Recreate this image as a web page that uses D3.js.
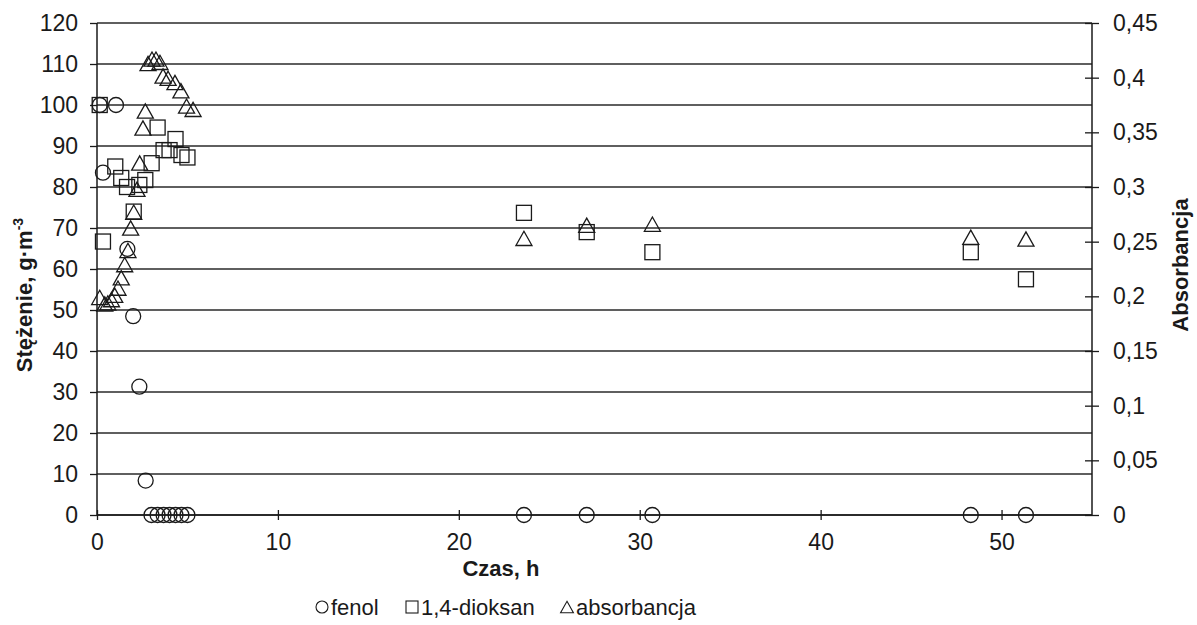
<!DOCTYPE html>
<html>
<head>
<meta charset="utf-8">
<script src="https://cdn.jsdelivr.net/npm/d3@7"></script>
<style>
  html, body { margin: 0; padding: 0; background: #fff; }
  svg { display: block; font-family: "Liberation Sans", Arial, sans-serif; }
</style>
</head>
<body>
<svg id="chart" width="1197" height="625"></svg>
<script>
// Phenol concentration over time (g·m-3)
const fenolTime = [0.15, 0.33, 1.05, 1.68, 2.0, 2.34, 2.69, 3.01, 3.35, 3.68, 4.01, 4.34, 4.67, 5.0, 23.6, 27.07, 30.7, 48.3, 51.35];
const fenolConc = [100, 83.5, 100, 64.9, 48.5, 31.3, 8.4, 0, 0, 0, 0, 0, 0, 0, 0, 0, 0, 0, 0];

// 1,4-dioxane concentration over time (g·m-3)
const dioxanTime = [0.15, 0.33, 1.01, 1.34, 1.66, 2.03, 2.34, 2.67, 3.02, 3.35, 3.68, 4.01, 4.34, 4.67, 5.0, 23.6, 27.07, 30.7, 48.3, 51.35];
const dioxanConc = [100, 66.7, 85, 82.2, 80, 74, 80.5, 81.7, 85.8, 94.5, 89, 89, 91.7, 87.8, 87.2, 73.7, 69, 64.1, 64.1, 57.5];

// Absorbance over time (right axis)
const absTime = [0.15, 0.43, 0.6, 0.8, 0.98, 1.16, 1.34, 1.53, 1.71, 1.86, 2.03, 2.21, 2.36, 2.54, 2.67, 2.82, 3.04, 3.26, 3.48, 3.65, 3.93, 4.31, 4.64, 4.95, 5.31, 23.6, 27.07, 30.7, 48.3, 51.35];
const absVal = [0.199, 0.193, 0.194, 0.197, 0.201, 0.2075, 0.217, 0.229, 0.242, 0.2625, 0.277, 0.298, 0.322, 0.354, 0.3695, 0.413, 0.417, 0.417, 0.414, 0.4015, 0.3994, 0.3956, 0.388, 0.374, 0.371, 0.253, 0.265, 0.266, 0.254, 0.2525];

// Axis ticks
const xTicks = [0, 10, 20, 30, 40, 50];
const leftTicks = [0, 10, 20, 30, 40, 50, 60, 70, 80, 90, 100, 110, 120];
const rightTicks = [0, 0.05, 0.1, 0.15, 0.2, 0.25, 0.3, 0.35, 0.4, 0.45];

const legendItems = [
  { shape: "circle", label: "fenol" },
  { shape: "square", label: "1,4-dioksan" },
  { shape: "triangle", label: "absorbancja" }
];

const svg = d3.select("#chart");
const plotLeft = 97, plotRight = 1092, plotTop = 23, plotBottom = 515;
const ink = "#1a1a1a";

const x = d3.scaleLinear().domain([0, 55]).range([plotLeft, plotRight]);
const yL = d3.scaleLinear().domain([0, 120]).range([plotBottom, plotTop]);
const yR = d3.scaleLinear().domain([0, 0.45]).range([plotBottom, plotTop]);

// Horizontal gridlines at every left-axis tick
svg.append("g").selectAll("line").data(leftTicks).join("line")
  .attr("x1", plotLeft).attr("x2", plotRight)
  .attr("y1", d => yL(d)).attr("y2", d => yL(d))
  .attr("stroke", "#2a2a2a").attr("stroke-width", 1.3);

// Left axis
const gL = svg.append("g").attr("transform", `translate(${plotLeft},0)`)
  .call(d3.axisLeft(yL).tickValues(leftTicks).tickSize(7).tickPadding(12).tickFormat(d3.format("d")));
// Right axis
const gR = svg.append("g").attr("transform", `translate(${plotRight},0)`)
  .call(d3.axisRight(yR).tickValues(rightTicks).tickSize(7).tickPadding(14)
    .tickFormat(d => d === 0 ? "0" : String(+d.toFixed(2)).replace(".", ",")));
gR.selectAll(".tick line").attr("x1", -7);
// Bottom axis
const gX = svg.append("g").attr("transform", `translate(0,${plotBottom})`)
  .call(d3.axisBottom(x).tickValues(xTicks).tickSize(5).tickPadding(14).tickFormat(d3.format("d")));
gX.selectAll(".tick line").attr("y1", -5);

[gL, gR, gX].forEach(g => {
  g.select(".domain").attr("stroke", ink).attr("stroke-width", 1.5);
  g.selectAll(".tick line").attr("stroke", ink).attr("stroke-width", 1.3);
  g.selectAll(".tick text").attr("fill", ink).style("font-size", "23px");
});
gL.select(".domain").attr("d", `M0,${plotBottom}V${plotTop}`);
gR.select(".domain").attr("d", `M0,${plotBottom}V${plotTop}`);
gX.select(".domain").attr("d", `M${plotLeft},0H${plotRight}`);

// Marker drawing helpers
function drawMarker(sel, shape, size) {
  if (shape === "circle") {
    sel.append("circle").attr("r", size / 2);
  } else if (shape === "square") {
    sel.append("rect").attr("x", -size / 2).attr("y", -size / 2)
      .attr("width", size).attr("height", size);
  } else {
    const w = size * 1.07, h = size * 0.95;
    sel.append("path").attr("d", `M0,${-h / 2}L${w / 2},${h / 2}L${-w / 2},${h / 2}Z`);
  }
}

function series(times, values, yScale, shape) {
  const g = svg.append("g").attr("fill", "none").attr("stroke", ink).attr("stroke-width", 1.3);
  times.forEach((t, i) => {
    const m = g.append("g").attr("transform", `translate(${x(t)},${yScale(values[i])})`);
    drawMarker(m, shape, 15);
  });
}

series(absTime, absVal, yR, "triangle");
series(dioxanTime, dioxanConc, yL, "square");
series(fenolTime, fenolConc, yL, "circle");

// Axis titles
svg.append("text")
  .attr("transform", `translate(32,${295}) rotate(-90)`)
  .attr("text-anchor", "middle").attr("fill", ink)
  .style("font-size", "22px").style("font-weight", "bold")
  .text("Stężenie, g·m")
  .append("tspan").attr("dy", -9).style("font-size", "14px").text("-3");

svg.append("text")
  .attr("transform", `translate(1188,265) rotate(-90)`)
  .attr("text-anchor", "middle").attr("fill", ink)
  .style("font-size", "22px").style("font-weight", "bold")
  .text("Absorbancja");

svg.append("text")
  .attr("x", 501).attr("y", 576)
  .attr("text-anchor", "middle").attr("fill", ink)
  .style("font-size", "22px").style("font-weight", "bold")
  .text("Czas, h");

// Legend
const legendX = [322, 412, 567];
const legend = svg.append("g");
legendItems.forEach((item, i) => {
  const g = legend.append("g").attr("transform", `translate(${legendX[i]},607)`);
  const m = g.append("g").attr("fill", "none").attr("stroke", ink).attr("stroke-width", 1.1);
  drawMarker(m, item.shape, 12);
  g.append("text").attr("x", 9).attr("y", 8).attr("fill", ink)
    .style("font-size", "22px").text(item.label);
});
</script>
</body>
</html>
